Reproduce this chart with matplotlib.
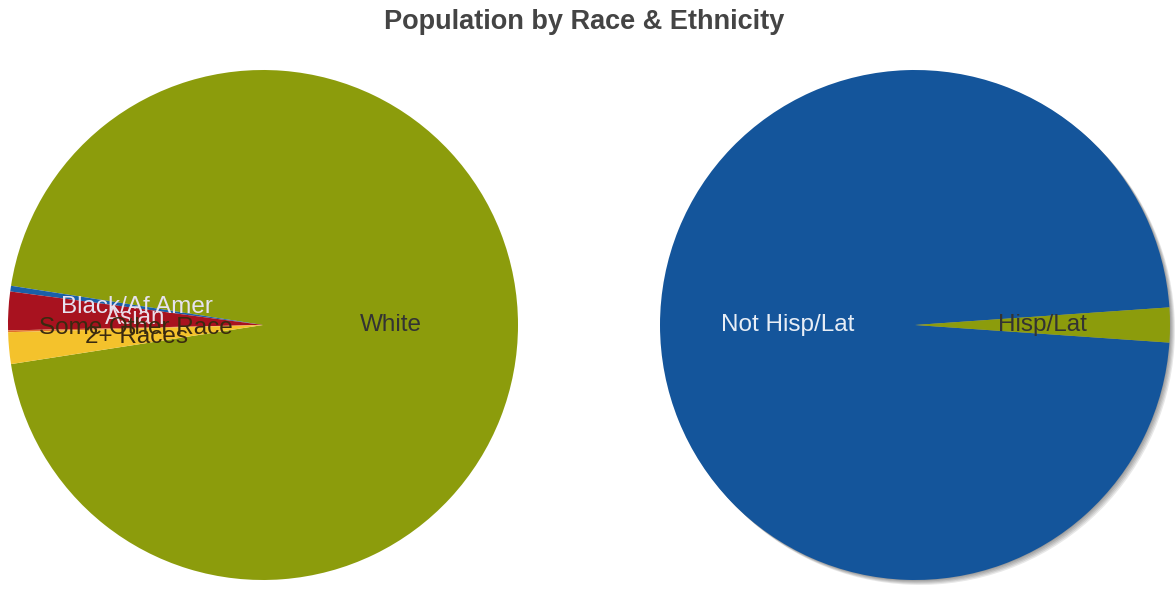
import matplotlib
matplotlib.use('Agg')
import matplotlib.pyplot as plt
import matplotlib.patches as mpatches

plt.rcParams['font.family'] = ['Liberation Sans', 'DejaVu Sans']

#%% Data (share of population, %)
race_labels = ['White', 'Black/Af Amer', 'Asian', 'Some Other Race', '2+ Races']
race_values = [95.1, 0.36, 2.44, 0.11, 2.0]
race_colors = ['#8c9c0c', '#1a5fa8', '#a8121f', '#e2702a', '#f4c22c']
race_text = ['#333333', '#e6e2f0', '#eadbe6', '#3a2a10', '#3a2a10']

eth_labels = ['Not Hisp/Lat', 'Hisp/Lat']
eth_values = [97.8, 2.2]
eth_colors = ['#14559b', '#8c9c0c']
eth_text = ['#e8eef6', '#333333']

#%% Figure
fig = plt.figure(figsize=(11.76, 5.92), dpi=100)
fig.patch.set_facecolor('white')

fig.text(0.497, 0.962, 'Population by Race & Ethnicity', ha='center', va='center',
         fontsize=19.5, fontweight='bold', color='#444444')


def draw_pie(rect, values, labels, colors, txtcols, start, shadow=False):
    ax = fig.add_axes(rect)
    wedges, texts = ax.pie(values, labels=labels, colors=colors, startangle=start,
                           counterclock=True, labeldistance=0.5, radius=1,
                           wedgeprops=dict(linewidth=0))
    for t, c in zip(texts, txtcols):
        t.set_ha('center')
        t.set_va('center')
        t.set_color(c)
        t.set_fontsize(17.5)
    if shadow:
        # soft drop shadow under the whole pie (offsets in radius units)
        for off in [0.002, 0.005, 0.008, 0.011, 0.014]:
            for w in wedges:
                s = mpatches.Shadow(w, off, -off, shade=1.0, alpha=0.09, linewidth=0)
                s.set_zorder(0.5)
                ax.add_patch(s)
    ax.set_xlim(-1, 1)
    ax.set_ylim(-1, 1)
    ax.set_aspect('equal')
    ax.axis('off')
    return ax


# White centered on the right side, small groups on the left
race_start = -sum(race_values[:1]) / 100 * 360 / 2
draw_pie([8 / 1176, 12 / 592, 510 / 1176, 510 / 592], race_values, race_labels,
         race_colors, race_text, race_start)

eth_start = eth_values[1] / 100 * 360 / 2
draw_pie([660 / 1176, 12 / 592, 510 / 1176, 510 / 592], eth_values, eth_labels,
         eth_colors, eth_text, eth_start, shadow=True)

plt.savefig('out.png', dpi=100)
